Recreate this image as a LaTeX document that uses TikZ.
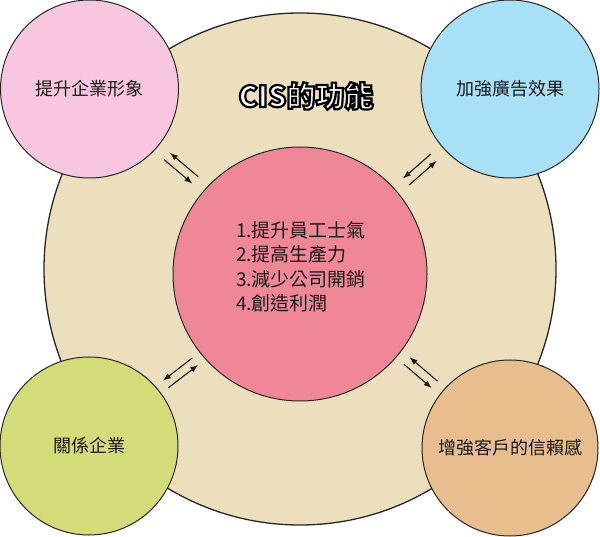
\documentclass[tikz,border=0pt]{standalone}
\usepackage{fontspec}
\setmainfont{Noto Sans CJK TC}
\newfontfamily\titlefont{Noto Sans CJK TC Black}
\newcommand{\outlined}[1]{\textcolor{white}{\special{pdf:literal direct 2 Tr 2.2 w 0 G}#1\special{pdf:literal direct 0 Tr}}}
\usetikzlibrary{arrows.meta}

\definecolor{ringfill}{RGB}{235,223,190}
\definecolor{corefill}{RGB}{240,135,150}
\definecolor{imagefill}{RGB}{248,198,222}
\definecolor{advertfill}{RGB}{168,224,246}
\definecolor{affilfill}{RGB}{212,220,122}
\definecolor{trustfill}{RGB}{232,190,142}

\begin{document}
\begin{tikzpicture}[
  x=1pt, y=1pt,
  >={Latex[length=8pt,width=6pt]},
  every node/.style={font=\fontsize{18}{22}\selectfont, text=black!90},
  bubble/.style={circle, draw=black!85, line width=1pt, minimum size=178pt,
    inner sep=0pt, align=center},
  flow/.style={->, line width=1.1pt, draw=black!90}
]
  \useasboundingbox (0,0) rectangle (600,536);

  \node[bubble, fill=ringfill, line width=1.3pt, minimum size=512pt] (ring) at (300,267) {};
  \node[bubble, fill=imagefill] (image) at (89.5,447) {提升企業形象};
  \node[bubble, fill=advertfill] (advert) at (510,447) {加強廣告效果};
  \node[bubble, fill=affilfill] (affil) at (89,90) {關係企業};
  \node[bubble, fill=trustfill, minimum size=176pt] (trust) at (510,88) {增強客戶的信賴感};
  \node[bubble, fill=corefill, minimum size=254pt] (core) at (300,262) {};
  \node[align=left, font=\fontsize{19}{24.5}\selectfont] (coretext) at (301,269)
    {1.提升員工士氣\\2.提高生產力\\3.減少公司開銷\\4.創造利潤};
  \node[font=\fontsize{29}{32}\titlefont] (title) at (306,440) {\outlined{CIS的功能}};

  % two-way arrows in the gaps
  \foreach \n/\a/\b/\s in {image/138.7/-41.3/13, advert/41.4/-138.6/13,
                           affil/-140.8/39.2/9, trust/-39.6/140.4/10}{
    \draw[flow, shorten <=\s pt, shorten >=\s pt]
      ([shift={(\a-90:4.5)}]core.\a) -- ([shift={(\a-90:4.5)}]\n.\b);
    \draw[flow, shorten <=\s pt, shorten >=\s pt]
      ([shift={(\a+90:4.5)}]\n.\b) -- ([shift={(\a+90:4.5)}]core.\a);
  }
\end{tikzpicture}
\end{document}
